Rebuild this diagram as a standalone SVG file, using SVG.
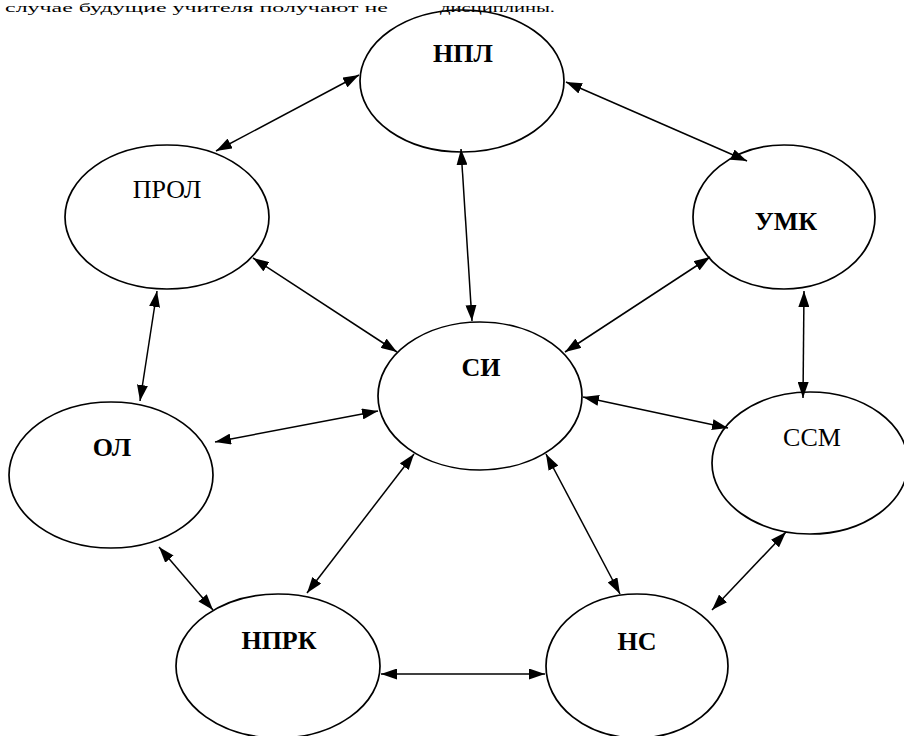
<svg xmlns="http://www.w3.org/2000/svg" width="904" height="736" viewBox="0 0 904 736">
<style>
.node ellipse{fill:#fff;stroke:#000;stroke-width:1.7}
.lbl{font-family:"Liberation Serif","Times New Roman",serif;font-size:26px;text-anchor:middle;fill:#000}
.b{font-weight:bold}
.top{font-family:"Liberation Serif","Times New Roman",serif;font-size:13px;fill:#000}
#connectors line{stroke:#000;stroke-width:1.5;marker-start:url(#ah);marker-end:url(#ah)}
</style>
<defs>
<marker id="ah" viewBox="0 0 16 11" refX="16" refY="5.5" markerWidth="16" markerHeight="11" markerUnits="userSpaceOnUse" orient="auto-start-reverse">
<path d="M0,0 L16,5.5 L0,11 z" fill="#000"/>
</marker>
</defs>
<rect width="904" height="736" fill="#fff"/>
<g id="NPL" class="node"><ellipse cx="462" cy="81" rx="102" ry="71"/><text class="lbl b" x="463" y="62">НПЛ</text></g>
<g id="PROL" class="node"><ellipse cx="167" cy="217" rx="102" ry="72"/><text class="lbl" x="167" y="198">ПРОЛ</text></g>
<g id="UMK" class="node"><ellipse cx="784" cy="217" rx="91" ry="72"/><text class="lbl b" x="786" y="230">УМК</text></g>
<g id="SI" class="node"><ellipse cx="480" cy="396" rx="102" ry="74"/><text class="lbl b" x="481" y="376">СИ</text></g>
<g id="OL" class="node"><ellipse cx="111" cy="475" rx="102" ry="73"/><text class="lbl b" x="112" y="456">ОЛ</text></g>
<g id="SSM" class="node"><ellipse cx="810" cy="463" rx="98" ry="71"/><text class="lbl" x="812" y="446">ССМ</text></g>
<g id="NPRK" class="node"><ellipse cx="278" cy="666" rx="102" ry="72"/><text class="lbl b" x="279" y="649">НПРК</text></g>
<g id="NS" class="node"><ellipse cx="637" cy="666" rx="91" ry="72"/><text class="lbl b" x="637" y="650">НС</text></g>
<g id="connectors">
<line x1="216" y1="151" x2="359" y2="75"/>
<line x1="566" y1="82" x2="747" y2="161"/>
<line x1="461" y1="149" x2="472" y2="321"/>
<line x1="253" y1="258" x2="397" y2="352"/>
<line x1="710" y1="257" x2="565" y2="352"/>
<line x1="157" y1="291" x2="140" y2="401"/>
<line x1="804" y1="291" x2="803" y2="398"/>
<line x1="215" y1="442" x2="378" y2="411"/>
<line x1="583" y1="397" x2="728" y2="428"/>
<line x1="414" y1="454" x2="307" y2="593"/>
<line x1="546" y1="454" x2="620" y2="594"/>
<line x1="159" y1="547" x2="213" y2="610"/>
<line x1="786" y1="532" x2="712" y2="610"/>
<line x1="381" y1="674" x2="545" y2="674"/>
</g>
<text class="top" x="5" y="12" textLength="383" lengthAdjust="spacingAndGlyphs">случае будущие учителя получают не</text>
<text class="top" x="440" y="12" textLength="115" lengthAdjust="spacingAndGlyphs">дисциплины.</text>
</svg>
